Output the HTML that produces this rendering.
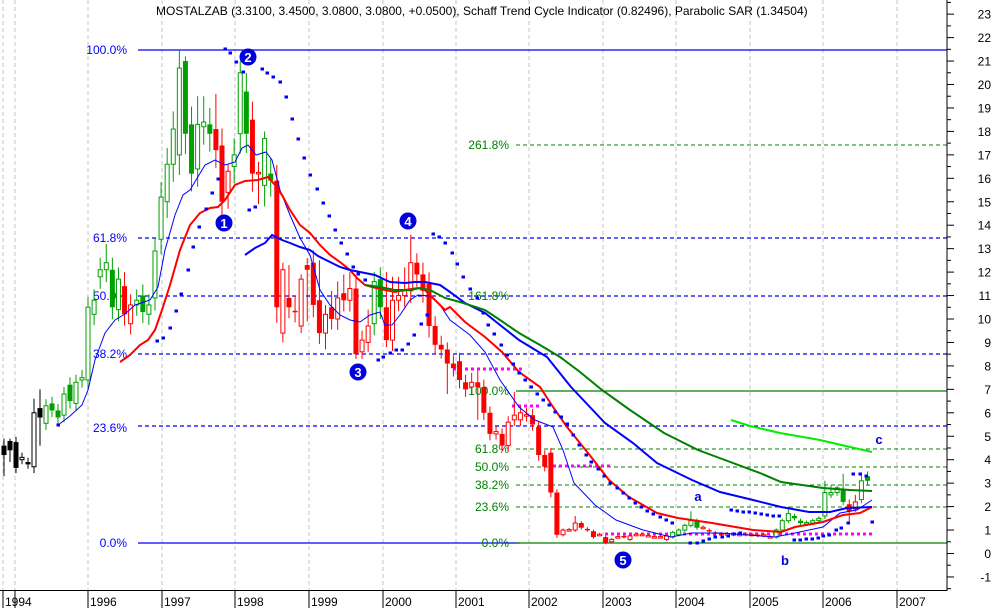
<!DOCTYPE html>
<html><head><meta charset="utf-8"><style>
html,body{margin:0;padding:0;background:#fff;}
svg{display:block;font-family:"Liberation Sans",sans-serif;}
</style></head><body>
<svg id="s" width="994" height="608" viewBox="0 0 994 608" xmlns="http://www.w3.org/2000/svg"></svg>
<script>
const S=document.getElementById('s');let h='';
const Y=p=>553.5-23.45*p;
[3,15,88,162,235,309,383,456,529,603,676,750,823,897].forEach(x=>{h+=`<line x1="${x}" y1="0" x2="${x}" y2="590" stroke="#c4c4c4" stroke-dasharray="4,3"/>`;});
const B='#0000ff',G='#008000';
h+=`<line x1="138" y1="50" x2="947" y2="50" stroke="${B}" stroke-width="1.3"/>`;
[238,296,354,426].forEach(y=>h+=`<line x1="138" y1="${y}" x2="947" y2="${y}" stroke="${B}" stroke-dasharray="4,3" stroke-width="1.2"/>`);
h+=`<line x1="138" y1="543" x2="520" y2="543" stroke="${B}" stroke-width="1.3"/>`;
h+=`<line x1="516" y1="543" x2="947" y2="543" stroke="${G}" stroke-width="1.2"/>`;
h+=`<line x1="516" y1="391" x2="947" y2="391" stroke="${G}" stroke-width="1.2"/>`;
[145,449,467,485,507].forEach(y=>h+=`<line x1="516" y1="${y}" x2="947" y2="${y}" stroke="${G}" stroke-dasharray="4,3" stroke-width="1.1"/>`);
const bl=[["100.0%",50],["61.8%",238],["50.0%",296],["38.2%",354],["23.6%",428],["0.0%",543]];
bl.forEach(a=>h+=`<text x="127" y="${a[1]+4}" text-anchor="end" font-size="12" fill="${B}">${a[0]}</text>`);
const gl=[["261.8%",145],["161.8%",296],["100.0%",391],["61.8%",449],["50.0%",467],["38.2%",485],["23.6%",507],["0.0%",543]];
gl.forEach(a=>h+=`<text x="509" y="${a[1]+4}" text-anchor="end" font-size="12" fill="${G}">${a[0]}</text>`);
[[453,522,369],[512,540,406],[553,612,466],[605,874,534]].forEach(a=>h+=`<line x1="${a[0]}" y1="${a[2]}" x2="${a[1]}" y2="${a[2]}" stroke="#ff00ff" stroke-width="3" stroke-dasharray="3,3"/>`);
const C={g:'#00a000',r:'#ff0000',k:'#000000'};
function cand(x,o,c,col,hi,lo){const top=Y(Math.max(o,c)),bot=Y(Math.min(o,c));const w=0.04*Math.max(o,c)+0.03;hi=hi??Math.max(o,c)+w;lo=lo??Math.min(o,c)-w;
h+=`<line x1="${x}" y1="${Y(hi)}" x2="${x}" y2="${Y(lo)}" stroke="${C[col]}" stroke-width="1"/>`;
let ht=Math.max(bot-top,1.5);
if(c>o)h+=`<rect x="${x-2}" y="${top}" width="4" height="${ht}" fill="#fff" stroke="${C[col]}" stroke-width="1"/>`;
else h+=`<rect x="${x-2.5}" y="${top}" width="5" height="${ht}" fill="${C[col]}"/>`;}
const pre=[[4,4.6,4.2,'k',4.9,3.3],[10,4.8,4.4,'k',4.9,3.9],[16,4.75,3.65,'k'],[22,4.0,4.1,'k'],[28,3.9,3.8,'k'],[34,3.7,6.0,'k',6.6],[40,6.2,5.8,'k',7.0,4.6],
[46,5.55,6.3,'g'],[52,6.4,6.1,'g'],[58,6.1,5.8,'g'],[64,5.9,6.8,'g'],[70,7.2,6.5,'g'],[76,6.4,7.3,'g'],[82,7.4,7.5,'g']];
pre.forEach(a=>cand(a[0],a[1],a[2],a[3],a[4],a[5]));
const D=[[7.4,10.5,'g'],[10.2,10.8,'g'],[11.8,12.1,'g'],[12.1,12.4,'g',13.2],[12.1,10.5,'g'],[10.4,11.7,'g'],[11.4,10.2,'r',12.0],[9.8,10.6,'r'],[10.6,10.8,'g'],[11.0,10.3,'g'],
[10.2,10.6,'g'],[10.9,12.9,'g'],[13.4,15.2,'g'],[15.0,16.6,'g'],[16.6,18.1,'g'],[17.0,20.7,'g',21.5],[21.0,17.9,'g',21.2],[18.3,16.2,'g'],[16.4,18.3,'g',19.5],[18.2,18.4,'g',19.5],
[18.3,17.9,'g',19.0],[18.1,17.2,'r',19.6],[17.4,15.0,'r'],[15.4,16.3,'r',16.6,14.7],[16.5,17.0,'g'],[17.9,20.5,'g',21.0],[19.7,17.9,'g',20.5],[18.5,16.2,'r'],[16.2,16.25,'r',16.7,14.9],[15.7,17.7,'g',18.0,14.8],
[16.2,15.9,'g'],[15.9,10.5,'r'],[9.4,12.1,'r',12.4,9.0],[10.9,10.5,'r',12.3],[10.35,10.3,'r',11.0],[9.7,11.7,'r',11.9,9.4],[12.3,12.1,'r',12.6,9.9],[12.4,10.6,'r'],[10.8,9.4,'r',12.5],[9.4,10.2,'r',10.6,8.7],
[10.5,10.0,'r',11.2],[10.0,10.9,'r',11.6],[11.1,10.8,'r',11.9],[10.8,11.3,'r',12.0],[11.3,8.5,'r',11.8,8.3],[8.6,9.1,'r',9.5,8.3],[9.0,9.7,'r',10.4,8.6],[9.8,11.6,'g',12.0],[11.7,10.5,'g',12.2],[10.5,9.1,'r',12.0,8.8],
[9.1,10.8,'r',11.8],[10.8,11.0,'r',11.8],[11.0,11.2,'r',12.2],[11.2,12.4,'r',13.6],[12.4,11.9,'r',12.8],[11.9,11.2,'r'],[11.5,9.7,'r'],[9.7,8.9,'r'],[8.9,8.7,'r'],[8.7,8.1,'r',9.0,6.8],
[8.1,7.9,'r'],[8.2,7.4,'r'],[7.3,7.0,'r'],[7.1,7.3,'r',7.7,6.8],[7.3,7.1,'r',7.8,5.7],[7.1,6.0,'r'],[6.0,5.1,'r'],[5.1,5.2,'r'],[5.1,4.6,'r'],[4.6,5.6,'r'],
[5.7,5.9,'r',6.9],[5.7,6.0,'r'],[5.9,5.92,'r',6.2],[5.9,5.5,'r'],[5.4,4.2,'r'],[4.2,3.7,'r',4.4,3.5],[4.3,2.6,'r'],[2.6,0.8,'r'],[0.8,1.0,'r'],[1.0,1.02,'r'],
[1.0,1.3,'r',1.6],[1.3,1.1,'r'],[1.05,1.0,'r'],[0.95,0.7,'r'],[0.8,0.82,'r'],[0.7,0.45,'r'],[0.5,0.6,'r'],[0.7,0.72,'r'],[0.75,0.7,'r'],[0.6,0.75,'r'],
[0.8,0.82,'r'],[0.8,0.82,'r'],[0.75,0.77,'r'],[0.7,0.72,'r'],[0.7,0.72,'r'],[0.6,0.75,'r'],[0.7,0.9,'g'],[0.8,1.0,'g'],[1.0,1.2,'g'],[1.2,1.4,'g',1.8],
[1.4,1.1,'g'],[1.1,1.12,'r'],[1.0,0.95,'r'],[0.9,0.85,'r'],[0.85,0.8,'r'],[0.8,0.85,'r'],[0.85,0.8,'r'],[0.8,0.82,'r'],[0.85,0.8,'r'],[0.8,0.82,'r'],
[0.8,0.75,'r'],[0.75,0.8,'r'],[0.7,0.72,'r'],[0.7,1.0,'g'],[1.0,1.4,'g'],[1.4,1.7,'g',2.0],[1.6,1.5,'g'],[1.4,1.3,'g'],[1.3,1.32,'g'],[1.3,1.4,'g'],
[1.4,1.5,'g'],[1.6,2.6,'g',3.1],[2.5,2.6,'g',2.9],[2.6,2.8,'g',2.9],[2.7,2.2,'g',3.4],[2.1,1.8,'r',2.3,1.3],[1.9,2.2,'r',2.5],[2.3,3.1,'g',3.4],[3.3,3.1,'g',3.5]];
D.forEach((a,i)=>cand(88+i*6.09,a[0],a[1],a[2],a[3],a[4]));
function pl(pts,col,w){h+=`<polyline fill="none" stroke="${col}" stroke-width="${w}" points="${pts}"/>`;}
pl("58,425 70,416 82,405 88,390 95,360 105,333 115,320 125,314 135,305 150,300 158,287 165,250 175,215 183,195 190,190 205,165 215,160 225,165 235,162 242,148 248,145 256,155 266,152 272,160 280,190 290,215 300,238 310,255 320,290 330,305 340,315 350,320 360,322 370,315 380,312 385,325 392,325 400,315 410,300 418,295 430,296 440,305 450,320 470,335 485,352 500,380 519,407 535,420 553,427 563,450 574,483 595,505 616,520 643,530 671,537 692,533 720,533 775,537 795,533 823,527 840,513 857,510 872,500",'#0000ff',1);
pl("120,362 130,355 140,345 148,340 155,330 162,310 170,285 180,250 190,225 200,213 210,208 218,207 225,200 235,185 245,181 258,180 268,177 275,185 282,195 290,210 300,225 310,233 320,245 330,255 340,262 350,270 357,278 365,285 372,287 385,290 395,292 405,290 418,288 425,290 435,300 445,310 450,307 465,322 485,337 502,352 519,372 540,387 553,407 567,427 588,453 609,480 629,497 657,513 678,518 712,523 753,530 781,532 795,527 823,522 843,515 860,513 872,507",'#ff0000',2);
pl("245,255 255,248 265,243 272,235 282,240 290,243 300,247 310,250 318,256 330,262 340,267 350,270 360,272 375,275 390,282 405,283 415,282 425,282 440,285 450,292 465,303 485,313 500,325 519,340 547,357 571,387 605,423 633,443 657,463 692,480 720,492 753,500 781,507 809,512 830,512 847,508 872,507",'#0000ff',2);
pl("365,285 380,287 395,290 410,290 420,288 430,290 445,298 460,302 485,310 500,320 519,333 540,345 560,357 580,372 602,390 630,410 664,433 698,450 733,463 760,473 781,482 802,485 823,488 850,490 872,491",'#008000',2);
pl("731,420 750,426 780,433 820,440 850,447 872,452",'#00ee00',2);
const sar="58,425 157,341 163,338 170,328 176,311 181,294 188,270 193,247 199,227 206,209 212,193 218,179 225,49 230,53 236,62 243,72 249,210 255,207 262,69 267,73 273,77 280,82 286,97 292,119 298,139 304,158 310,175 317,189 323,203 329,216 335,230 341,243 347,254 353,267 358,274 365,280 378,360 383,357 390,353 396,350 402,350 408,344 414,335 421,324 427,315 433,234 439,237 445,243 452,253 457,264 463,277 470,289 477,298 483,313 488,325 494,334 501,345 507,355 513,364 519,373 525,380 531,387 537,394 543,400 549,405 555,412 561,417 567,424 573,435 579,445 586,455 591,462 598,469 604,476 610,483 617,488 623,493 629,498 635,503 641,507 647,511 653,514 660,517 666,520 672,523 690,543 697,543 703,541 709,539 715,537 722,537 728,536 734,534 740,533 731,510 737,511 743,512 749,512 755,513 761,514 767,515 773,516 779,516 794,540 800,540 806,539 812,539 818,538 823,536 829,535 836,530 841,528 848,523 853,474 860,474 866,476 872,522";
sar.split(' ').forEach(p=>{const [x,y]=p.split(',');h+=`<rect x="${x-1.5}" y="${y-1.5}" width="3.5" height="3" fill="#0000ff"/>`;});
[[224,223,'1'],[248,57,'2'],[358,372,'3'],[408,221,'4'],[623,560,'5']].forEach(a=>{h+=`<circle cx="${a[0]}" cy="${a[1]}" r="8.5" fill="#0000dd"/><text x="${a[0]}" y="${a[1]+5}" text-anchor="middle" font-size="13" font-weight="bold" fill="#fff">${a[2]}</text>`;});
[[698,501,'a'],[785,565,'b'],[879,444,'c']].forEach(a=>h+=`<text x="${a[0]}" y="${a[1]}" text-anchor="middle" font-size="13" font-weight="bold" fill="#0000dd">${a[2]}</text>`);
h+=`<rect x="947" y="0" width="47" height="608" fill="#fff"/>`;
h+=`<line x1="947" y1="0" x2="947" y2="591" stroke="#000"/><line x1="0" y1="590.5" x2="947" y2="590.5" stroke="#000"/>`;
for(let p=-1.5;p<=23.5;p+=0.5){const y=Y(p);if(y<0||y>590)continue;const maj=Number.isInteger(p);h+=`<line x1="947" y1="${y}" x2="${maj?954:951}" y2="${y}" stroke="#000"/>`;if(maj)h+=`<text x="991" y="${y+4.5}" text-anchor="end" font-size="12" fill="#000">${p}</text>`;}
[[3,'1994'],[88,'1996'],[162,'1997'],[235,'1998'],[309,'1999'],[383,'2000'],[456,'2001'],[529,'2002'],[603,'2003'],[676,'2004'],[750,'2005'],[823,'2006'],[897,'2007']].forEach(a=>{h+=`<line x1="${a[0]}" y1="590" x2="${a[0]}" y2="608" stroke="#000"/><text x="${a[0]+2}" y="606" font-size="12" fill="#000">${a[1]}</text>`;});
h+=`<line x1="15" y1="590" x2="15" y2="608" stroke="#000"/>`;
h+=`<text x="156" y="15" font-size="12" fill="#000">MOSTALZAB (3.3100, 3.4500, 3.0800, 3.0800, +0.0500), Schaff Trend Cycle Indicator (0.82496), Parabolic SAR (1.34504)</text>`;
S.innerHTML=h;
</script>
</body></html>
